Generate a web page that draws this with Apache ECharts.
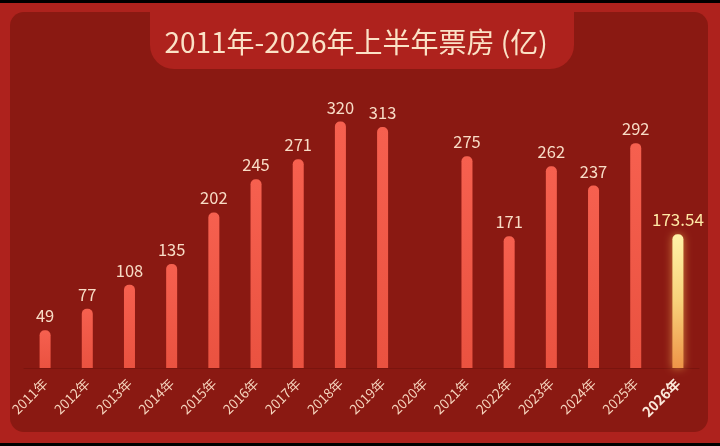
<!DOCTYPE html>
<html>
<head>
<meta charset="utf-8">
<script src="https://cdn.jsdelivr.net/npm/echarts@6/dist/echarts.min.js"></script>
<style>
html,body{margin:0;padding:0;background:#000;}
#c{width:720px;height:446px;}
</style>
</head>
<body>
<div id="c"></div>
<script>
const years = ['2011年','2012年','2013年','2014年','2015年','2016年','2017年','2018年','2019年','2020年','2021年','2022年','2023年','2024年','2025年','2026年'];
const boxOffice = [49, 77, 108, 135, 202, 245, 271, 320, 313, null, 275, 171, 262, 237, 292, 173.54];
const titleText = '2011年-2026年上半年票房 (亿)';

const chart = echarts.init(document.getElementById('c'));
const font = '"Noto Sans CJK SC", "Noto Sans", sans-serif';
const last = years.length - 1;

const barData = boxOffice.map((v, i) => {
  if (i === last) {
    return {
      value: v,
      itemStyle: {
        color: new echarts.graphic.LinearGradient(0, 0, 0, 1, [
          {offset: 0, color: '#fff3a8'},
          {offset: 0.5, color: '#f8d27a'},
          {offset: 1, color: '#ee9448'}
        ]),
        shadowColor: 'rgba(255,200,90,0.6)',
        shadowBlur: 8
      },
      label: {color: '#ffe9a6', fontSize: 17}
    };
  }
  return v;
});

chart.setOption({
  backgroundColor: '#000',
  graphic: [
    {type: 'rect', z: -20, silent: true, shape: {x: 0, y: 3, width: 720, height: 440}, style: {fill: '#ae221d'}},
    {type: 'rect', z: -19, silent: true, shape: {x: 10, y: 12, width: 698, height: 420, r: 14}, style: {fill: '#8a1912'}},
    {type: 'rect', z: -18, silent: true, shape: {x: 150, y: 3, width: 424, height: 66, r: [0, 0, 24, 24]}, style: {fill: '#ae221d'}},
    {type: 'text', z: 10, silent: true, x: 356, y: 42, style: {text: titleText, fill: '#fbe2c6', font: '400 28px ' + font, align: 'center', verticalAlign: 'middle'}}
  ],
  grid: {left: 24, right: 21, top: 60, bottom: 78},
  xAxis: {
    type: 'category',
    data: years,
    axisLine: {show: true, lineStyle: {color: 'rgba(60,0,0,0.2)'}},
    axisTick: {show: false},
    axisLabel: {
      interval: 0,
      rotate: 45,
      margin: 13,
      color: '#f6d4bd',
      fontSize: 13.5,
      fontFamily: font,
      formatter: function (v, i) { return i === last ? '{b|' + v + '}' : v; },
      rich: {b: {fontWeight: 'bold', color: '#fbe8da', fontSize: 14, fontFamily: font}}
    }
  },
  yAxis: {
    type: 'value',
    min: 0,
    max: 400,
    show: false,
    splitLine: {show: false}
  },
  series: [{
    type: 'bar',
    data: barData,
    barWidth: 11,
    itemStyle: {
      borderRadius: [5, 5, 0, 0],
      color: new echarts.graphic.LinearGradient(0, 0, 0, 1, [
        {offset: 0, color: '#f6604f'},
        {offset: 1, color: '#ea5240'}
      ])
    },
    label: {
      show: true,
      position: 'top',
      distance: 6,
      color: '#f8dcc6',
      fontSize: 16.5,
      fontFamily: font
    }
  }]
});
</script>
</body>
</html>
